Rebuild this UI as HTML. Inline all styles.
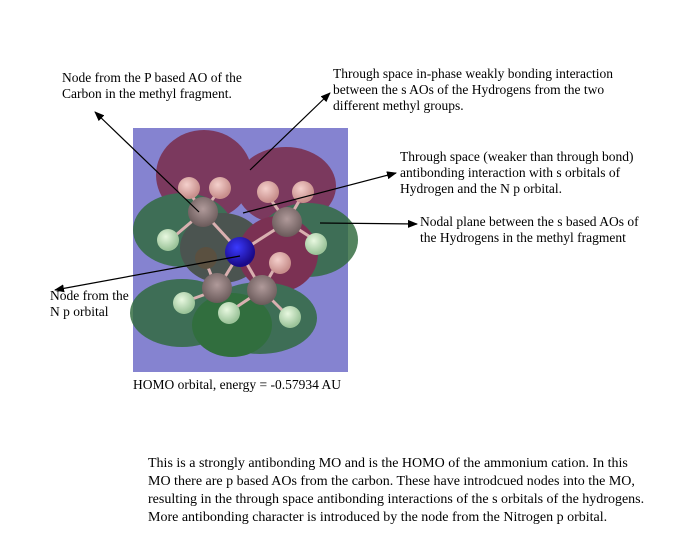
<!DOCTYPE html>
<html><head><meta charset="utf-8"><style>
html,body{margin:0;padding:0;background:#fff;}
svg{display:block;}
text{font-family:"Liberation Serif",serif;font-size:13.5px;fill:#000;}
.p{font-size:14px;}
</style></head><body>
<svg width="698" height="551" viewBox="0 0 698 551">
<defs>
<marker id="a" markerWidth="10" markerHeight="8" refX="9" refY="4" orient="auto" markerUnits="userSpaceOnUse"><path d="M0,0 L10,4 L0,8 z" fill="#000"/></marker>
<radialGradient id="hp" cx="0.4" cy="0.35" r="0.6"><stop offset="0" stop-color="#f4d0cc"/><stop offset="1" stop-color="#c88f8c"/></radialGradient>
<radialGradient id="hg" cx="0.4" cy="0.35" r="0.6"><stop offset="0" stop-color="#e8f8e0"/><stop offset="1" stop-color="#9cc49a"/></radialGradient>
<radialGradient id="cg" cx="0.5" cy="0.4" r="0.6"><stop offset="0" stop-color="#b09a9a"/><stop offset="1" stop-color="#6a5a5a"/></radialGradient>
<radialGradient id="ng" cx="0.4" cy="0.35" r="0.6"><stop offset="0" stop-color="#3a3aff"/><stop offset="1" stop-color="#1a0a8a"/></radialGradient>
</defs>
<rect x="133" y="128" width="215" height="244" fill="#8583d0"/>
<g opacity="0.82">
<ellipse cx="204" cy="175" rx="48" ry="45" fill="#7a2a46"/>
<ellipse cx="286" cy="186" rx="50" ry="39" fill="#7a2a46"/>
<ellipse cx="183" cy="230" rx="50" ry="37" fill="#2f6a3c"/>
<ellipse cx="308" cy="240" rx="50" ry="37" fill="#2f6a3c"/>
<ellipse cx="222" cy="248" rx="42" ry="35" fill="#3f4a34"/>
<ellipse cx="278" cy="254" rx="40" ry="38" fill="#7a2038"/>
<ellipse cx="182" cy="313" rx="52" ry="34" fill="#2f6a3c"/>
<ellipse cx="260" cy="318" rx="57" ry="36" fill="#2f6a3c"/>
<ellipse cx="232" cy="325" rx="40" ry="32" fill="#1f6a1f"/>
</g>
<g stroke="#d9b0b0" stroke-width="3">
<line x1="203" y1="212" x2="189" y2="192"/><line x1="203" y1="212" x2="218" y2="192"/>
<line x1="203" y1="212" x2="170" y2="240"/><line x1="203" y1="212" x2="240" y2="252"/>
<line x1="287" y1="222" x2="268" y2="196"/><line x1="287" y1="222" x2="302" y2="196"/>
<line x1="287" y1="222" x2="240" y2="252"/><line x1="240" y1="252" x2="217" y2="290"/>
<line x1="240" y1="252" x2="262" y2="290"/><line x1="262" y1="290" x2="278" y2="262"/>
<line x1="217" y1="290" x2="184" y2="302"/><line x1="217" y1="290" x2="206" y2="262"/>
<line x1="262" y1="290" x2="229" y2="312"/><line x1="262" y1="290" x2="290" y2="318"/>
<line x1="287" y1="222" x2="318" y2="242"/>
</g>
<circle cx="189" cy="188" r="11" fill="url(#hp)"/><circle cx="220" cy="188" r="11" fill="url(#hp)"/>
<circle cx="268" cy="192" r="11" fill="url(#hp)"/><circle cx="303" cy="192" r="11" fill="url(#hp)"/>
<circle cx="168" cy="240" r="11" fill="url(#hg)"/><circle cx="316" cy="244" r="11" fill="url(#hg)"/>
<circle cx="203" cy="212" r="15" fill="url(#cg)"/><circle cx="287" cy="222" r="15" fill="url(#cg)"/>
<circle cx="206" cy="258" r="11" fill="#5a5040"/><circle cx="280" cy="263" r="11" fill="url(#hp)"/>
<circle cx="240" cy="252" r="15" fill="url(#ng)"/>
<circle cx="217" cy="288" r="15" fill="url(#cg)"/><circle cx="262" cy="290" r="15" fill="url(#cg)"/>
<circle cx="184" cy="303" r="11" fill="url(#hg)"/><circle cx="229" cy="313" r="11" fill="url(#hg)"/><circle cx="290" cy="317" r="11" fill="url(#hg)"/>
<g stroke="#000" stroke-width="1.2" fill="none" marker-end="url(#a)">
<line x1="199" y1="212" x2="95" y2="112"/>
<line x1="250" y1="170" x2="330" y2="93"/>
<line x1="243" y1="213" x2="396" y2="173"/>
<line x1="320" y1="223" x2="417" y2="224"/>
<line x1="240" y1="256" x2="55" y2="290"/>
</g>
<text x="62" y="82">Node from the P based AO of the</text>
<text x="62" y="98">Carbon in the methyl fragment.</text>
<text x="333" y="78">Through space in-phase weakly bonding interaction</text>
<text x="333" y="94">between the s AOs of the Hydrogens from the two</text>
<text x="333" y="110">different methyl groups.</text>
<text x="400" y="161">Through space (weaker than through bond)</text>
<text x="400" y="177">antibonding interaction with s orbitals of</text>
<text x="400" y="193">Hydrogen and the N p orbital.</text>
<text x="420" y="226">Nodal plane between the s based AOs of</text>
<text x="420" y="242">the Hydrogens in the methyl fragment</text>
<text x="50" y="300">Node from the</text>
<text x="50" y="316">N p orbital</text>
<text x="133" y="389">HOMO orbital, energy = -0.57934 AU</text>
<text class="p" x="148" y="467">This is a strongly antibonding MO and is the HOMO of the ammonium cation. In this</text>
<text class="p" x="148" y="485">MO there are p based AOs from the carbon. These have introdcued nodes into the MO,</text>
<text class="p" x="148" y="503">resulting in the through space antibonding interactions of the s orbitals of the hydrogens.</text>
<text class="p" x="148" y="521">More antibonding character is introduced by the node from the Nitrogen p orbital.</text>
</svg>
</body></html>
